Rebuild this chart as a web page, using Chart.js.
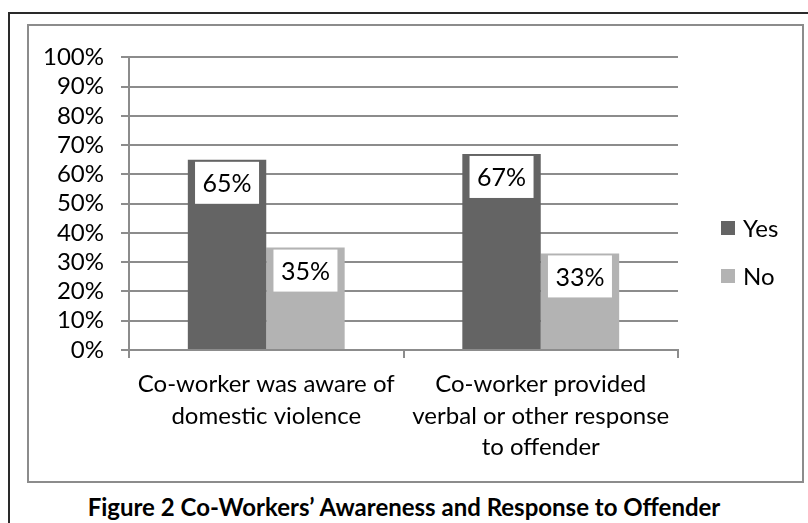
<!DOCTYPE html>
<html lang="en">
<head>
<meta charset="UTF-8">
<title>Co-Workers' Awareness and Response to Offender</title>
<style>
  body { margin: 0; background: #fff; font-family: Lato, sans-serif; }
  .frame { position: absolute; left: 8px; top: 12px; width: 900px; height: 600px; border: 2px solid #2a2a2a; }
  .box { position: absolute; left: 27px; top: 24px; width: 777px; height: 459px; border: 2px solid #8c8c8c; box-sizing: border-box; }
  .box canvas { display: block; }
  .caption { position: absolute; left: 0; top: 492px; width: 808px; text-align: center; font-weight: bold; font-size: 24px; color: #000; }
</style>
</head>
<body>
<div class="frame"></div>
<div class="box"><canvas id="chartBar"></canvas></div>
<div class="caption">Figure 2 Co-Workers’ Awareness and Response to Offender</div>

<script src="https://cdn.jsdelivr.net/npm/chart.js"></script>
<script>
const categories = [
  ['Co-worker was aware of', 'domestic violence'],
  ['Co-worker provided', 'verbal or other response', 'to offender']
]
const seriesNames = ['Yes', 'No']
const yesValues = [65, 67]
const noValues = [35, 33]
const seriesColors = ['#646464', '#b3b3b3']

const fontName = 'Lato'
const fontSize = 24

// white label boxes at the top of each bar
const barLabels = {
  id: 'barLabels',
  afterDatasetsDraw(chart) {
    const ctx = chart.ctx
    ctx.save()
    ctx.font = (fontSize + 1) + 'px ' + fontName
    ctx.textAlign = 'center'
    ctx.textBaseline = 'middle'
    chart.data.datasets.forEach((ds, i) => {
      chart.getDatasetMeta(i).data.forEach((bar, j) => {
        const w = 64, h = 42
        const top = bar.y + 2
        ctx.fillStyle = '#fff'
        ctx.fillRect(bar.x - w / 2, top, w, h)
        ctx.fillStyle = '#000'
        ctx.fillText(ds.data[j] + '%', bar.x, top + h / 2 + 1)
      })
    })
    ctx.restore()
  }
}

// legend drawn to the right of the plot
const sideLegend = {
  id: 'sideLegend',
  afterDraw(chart) {
    const ctx = chart.ctx
    const x = chart.chartArea.right + 43
    const y0 = 202
    ctx.save()
    ctx.font = fontSize + 'px ' + fontName
    ctx.textBaseline = 'middle'
    chart.data.datasets.forEach((ds, i) => {
      const y = y0 + i * 48
      ctx.fillStyle = ds.backgroundColor
      ctx.fillRect(x, y - 7, 14, 14)
      ctx.fillStyle = '#000'
      ctx.fillText(ds.label, x + 22, y + 1)
    })
    ctx.restore()
  }
}

const dataBarChart = {
  labels: categories,
  datasets: [
    { label: seriesNames[0], data: yesValues, backgroundColor: seriesColors[0] },
    { label: seriesNames[1], data: noValues, backgroundColor: seriesColors[1] }
  ]
}

const configBarChart = {
  type: 'bar',
  data: dataBarChart,
  options: {
    responsive: true,
    maintainAspectRatio: false,
    animation: false,
    layout: { padding: { top: 26, right: 124, left: 0, bottom: 0 } },
    categoryPercentage: 0.5714,
    barPercentage: 1,
    plugins: { legend: { display: false }, tooltip: { enabled: false } },
    scales: {
      x: {
        grid: { display: true, drawOnChartArea: false, offset: true, tickLength: 8, color: '#8c8c8c', lineWidth: 2 },
        border: { color: '#8c8c8c', width: 2 },
        ticks: { color: '#000', padding: 11, maxRotation: 0, font: { family: fontName, size: fontSize, lineHeight: 1.31 } },
        afterFit(scale) { scale.height = 131 }
      },
      y: {
        min: 0,
        max: 100,
        ticks: { stepSize: 10, autoSkip: false, color: '#000', padding: 17, callback: v => v + '%', font: { family: fontName, size: fontSize } },
        grid: { color: '#8c8c8c', lineWidth: 2, tickLength: 8 },
        border: { color: '#8c8c8c', width: 2 },
        afterFit(scale) { scale.width = 100 }
      }
    }
  },
  plugins: [barLabels, sideLegend]
}

new Chart(document.getElementById('chartBar'), configBarChart)
</script>
</body>
</html>
